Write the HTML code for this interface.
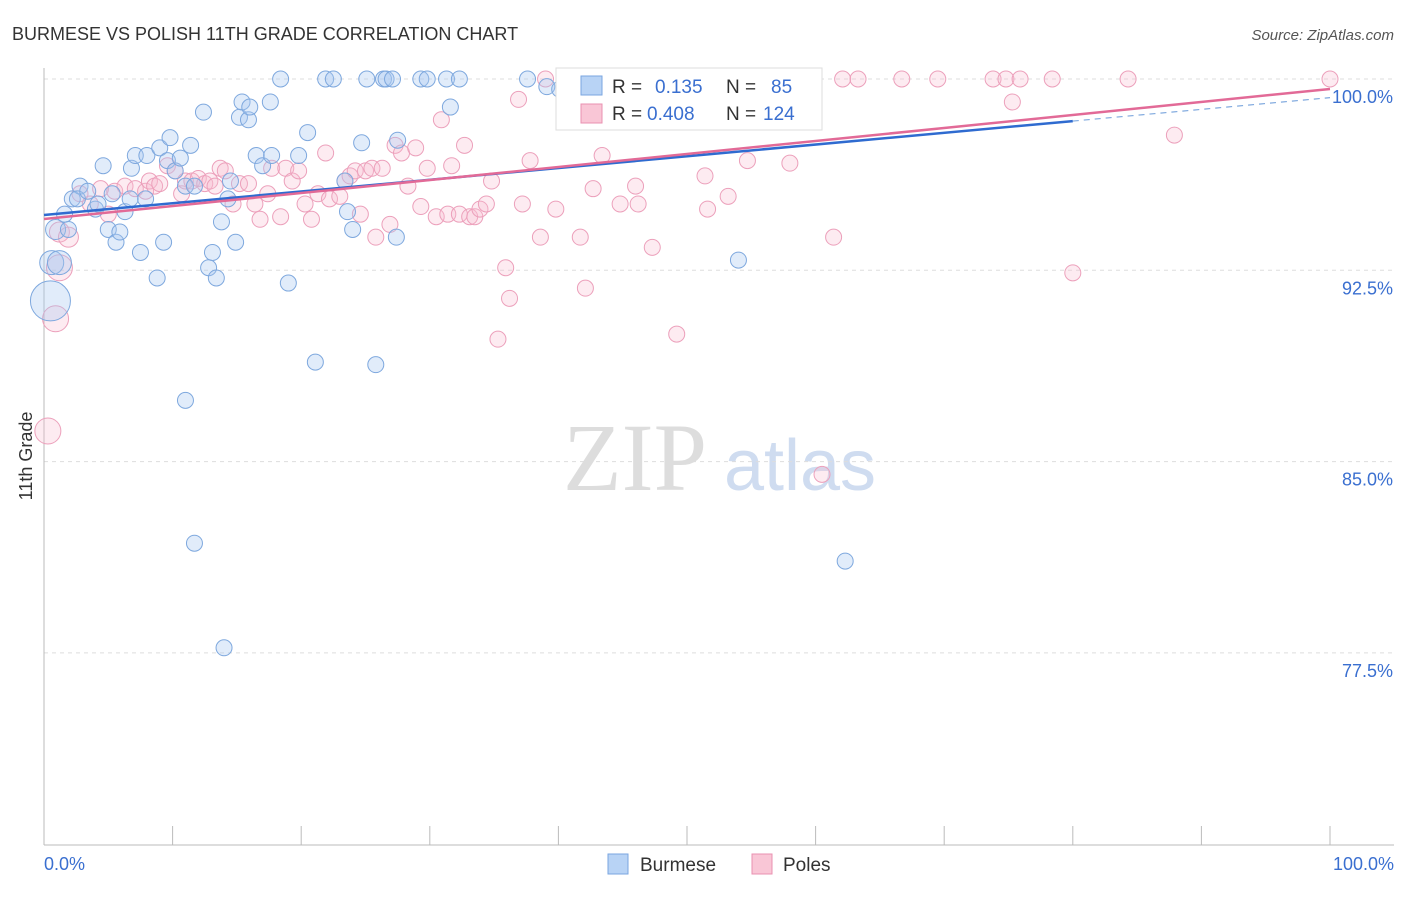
<!DOCTYPE html>
<html><head><meta charset="utf-8"><style>
body{margin:0;background:#fff;font-family:"Liberation Sans",sans-serif;}
#c{position:relative;width:1406px;height:892px;}
</style></head><body>
<div id="c">
<svg id="s" width="1406" height="892" xmlns="http://www.w3.org/2000/svg">
<text x="12" y="40" font-size="18" fill="#333">BURMESE VS POLISH 11TH GRADE CORRELATION CHART</text>
<text x="1394" y="40" font-size="15" fill="#555" text-anchor="end" font-style="italic">Source: ZipAtlas.com</text>
<text x="32" y="456" font-size="18" fill="#333" text-anchor="middle" transform="rotate(-90 32 456)">11th Grade</text>
<g><text x="635" y="490" font-size="96" fill="#ddd" font-family="Liberation Serif" text-anchor="middle">ZIP</text><text x="800" y="490" font-size="72" fill="#cfdcf0" text-anchor="middle">atlas</text></g>
<g id="grid"></g><g id="axes"></g><g id="pts"></g><g id="trend"></g>
<g>
<rect x="556" y="68" width="266" height="62" fill="#fff" stroke="#ddd"/>
<rect x="581" y="76" width="21" height="19" fill="#b8d3f5" stroke="#7aa6e0"/>
<text x="612" y="93" font-size="19" fill="#333">R = </text><text x="655" y="93" font-size="19" fill="#3a6fd0">0.135</text>
<text x="726" y="93" font-size="19" fill="#333">N = </text><text x="771" y="93" font-size="19" fill="#3a6fd0">85</text>
<rect x="581" y="104" width="21" height="19" fill="#f9c6d6" stroke="#e990b0"/>
<text x="612" y="120" font-size="19" fill="#333">R = </text><text x="647" y="120" font-size="19" fill="#3a6fd0">0.408</text>
<text x="726" y="120" font-size="19" fill="#333">N = </text><text x="763" y="120" font-size="19" fill="#3a6fd0">124</text>
</g>
<g>
<rect x="608" y="854" width="20" height="20" fill="#b8d3f5" stroke="#7aa6e0"/>
<text x="640" y="871" font-size="19" fill="#333">Burmese</text>
<rect x="752" y="854" width="20" height="20" fill="#f9c6d6" stroke="#e990b0"/>
<text x="783" y="871" font-size="19" fill="#333">Poles</text>
</g>
</svg></div>
<script>
const yTicks=[100,92.5,85,77.5];
const yTickLabels=["100.0%","92.5%","85.0%","77.5%"];
const xTickVals=[0,10,20,30,40,50,60,70,80,90,100];
const burX=[0.5,0.6,1.2,0.9,1.9,1.6,2.2,2.8,2.6,3.4,4.0,4.2,4.6,5.0,5.3,5.6,5.9,6.3,6.7,6.8,7.1,8.0,7.5,7.9,8.8,9.0,9.3,9.8,9.6,10.2,10.6,11.0,11.4,11.7,11.0,11.7,12.4,12.8,13.1,13.4,13.8,14.3,14.0,14.5,14.9,15.2,15.4,15.9,16.0,16.5,17.0,17.6,17.7,18.4,19.0,19.8,20.5,21.1,21.9,22.5,23.4,23.6,24.0,24.7,25.1,25.8,26.4,26.6,27.1,27.4,27.5,29.3,29.8,31.3,31.6,32.3,37.6,39.1,40.1,43.2,54.0,62.3];
const burY=[91.3,92.8,92.8,94.1,94.1,94.7,95.3,95.8,95.3,95.6,94.9,95.1,96.6,94.1,95.5,93.6,94.0,94.8,95.3,96.5,97.0,97.0,93.2,95.3,92.2,97.3,93.6,97.7,96.8,96.4,96.9,95.8,97.4,95.8,87.4,81.8,98.7,92.6,93.2,92.2,94.4,95.3,77.7,96.0,93.6,98.5,99.1,98.4,98.9,97.0,96.6,99.1,97.0,100,92.0,97.0,97.9,88.9,100,100,96.0,94.8,94.1,97.5,100,88.8,100,100,100,93.8,97.6,100,100,100,98.9,100,100,99.7,99.6,99.0,92.9,81.1];
const burR=[20,12,12,10];
const polX=[0.3,0.9,1.2,1.2,1.9,2.8,3.6,4.4,5.0,5.5,6.3,7.1,7.9,8.2,8.6,9.0,9.6,10.2,10.7,11.0,11.5,12.0,12.5,12.9,13.3,13.7,14.1,14.7,15.2,15.9,16.4,16.8,17.4,17.7,18.4,18.8,19.3,19.8,20.3,20.8,21.3,21.9,22.2,23.0,23.4,23.8,24.2,24.6,25.0,25.5,25.8,26.3,26.9,27.3,27.8,28.3,28.9,29.3,29.8,30.5,30.9,31.4,31.7,32.3,32.7,33.1,33.5,33.9,34.4,34.8,35.3,35.9,36.2,36.9,37.2,37.8,38.6,39.0,39.8,40.5,41.7,42.1,42.7,43.4,44.8,46.0,46.2,47.3,49.2,50.2,51.4,51.6,53.2,53.7,54.7,55.1,58.0,60.5,61.4,62.1,63.3,66.7,69.5,73.8,74.8,75.3,75.9,78.4,80.0,84.3,87.9,100];
const polY=[86.2,90.6,92.6,94.0,93.8,95.5,95.1,95.7,94.7,95.6,95.8,95.7,95.6,96.0,95.8,95.9,96.6,96.4,95.5,96.0,96.0,96.1,95.9,96.0,95.8,96.5,96.4,95.1,95.9,95.9,95.1,94.5,95.5,96.5,94.6,96.5,96.0,96.4,95.1,94.5,95.5,97.1,95.3,95.4,96.0,96.2,96.4,94.7,96.4,96.5,93.8,96.5,94.3,97.4,97.1,95.8,97.3,95.0,96.5,94.6,98.4,94.7,96.6,94.7,97.4,94.6,94.6,94.9,95.1,96.0,89.8,92.6,91.4,99.2,95.1,96.8,93.8,100,94.9,100,93.8,91.8,95.7,97.0,95.1,95.8,95.1,93.4,90.0,100,96.2,94.9,95.4,100,96.8,100,96.7,84.5,93.8,100,100,100,100,100,100,99.1,100,100,92.4,100,97.8,100];
const polR=[13,13,13,10,10];
const burTrend=[[0,94.67],[80,98.35],[100,99.27]];
const polTrend=[[0,94.51],[100,99.61]];
const X0=44,X1=1330,Y0=79,YS=191.3/7.5;
const xs=v=>X0+(X1-X0)*v/100, ys=v=>Y0+(100-v)*YS;
const NS="http://www.w3.org/2000/svg";
function mk(t,a,p){const e=document.createElementNS(NS,t);for(const k in a)e.setAttribute(k,a[k]);p.appendChild(e);return e;}
const grid=document.getElementById('grid'),axes=document.getElementById('axes'),pts=document.getElementById('pts'),tr=document.getElementById('trend');
yTicks.forEach((v,i)=>{
 const l=mk('line',{x1:X0,x2:1394,y1:ys(v),y2:ys(v),stroke:'#ddd','stroke-dasharray':'4 4'},grid);
 
 
 const t=mk('text',{x:1393,y:ys(v)+24,'font-size':18,fill:'#3a6fd0','text-anchor':'end'},axes);
 t.textContent=yTickLabels[i];
 
 
});
const ax=mk('line',{x1:X0,x2:1394,y1:845,y2:845,stroke:'#bbb'},axes);


const ay=mk('line',{x1:X0,x2:X0,y1:68,y2:845,stroke:'#bbb'},axes);


xTickVals.forEach(v=>{const t=mk('line',{x1:xs(v),x2:xs(v),y1:826,y2:845,stroke:'#bbb'},axes);
 
 });
[[0,"0.0%",'start',44],[100,"100.0%",'end',1394]].forEach(d=>{const t=mk('text',{x:d[3],y:870,'font-size':18,fill:'#3a6fd0','text-anchor':d[2]},axes);t.textContent=d[1];
 
 });
function draw(X,Y,R,fill,stroke,name){X.forEach((x,i)=>{const c=mk('circle',{cx:xs(x),cy:ys(Y[i]),r:R[i]||8,fill:fill,stroke:stroke,'stroke-width':1},pts);
 
 });}
draw(polX,polY,polR,'rgba(248,190,210,0.3)','#eca0bb','poles-point');
draw(burX,burY,burR,'rgba(170,200,240,0.35)','#7ea8de','burmese-point');
const b1=mk('line',{x1:xs(burTrend[0][0]),y1:ys(burTrend[0][1]),x2:xs(burTrend[1][0]),y2:ys(burTrend[1][1]),stroke:'#2f6bd0','stroke-width':2.5},tr);


const b2=mk('line',{x1:xs(burTrend[1][0]),y1:ys(burTrend[1][1]),x2:xs(burTrend[2][0]),y2:ys(burTrend[2][1]),stroke:'#7ea8de','stroke-width':1.2,'stroke-dasharray':'6 5'},tr);


const p1=mk('line',{x1:xs(polTrend[0][0]),y1:ys(polTrend[0][1]),x2:xs(polTrend[1][0]),y2:ys(polTrend[1][1]),stroke:'#e26a97','stroke-width':2.5},tr);


</script>
</body></html>
